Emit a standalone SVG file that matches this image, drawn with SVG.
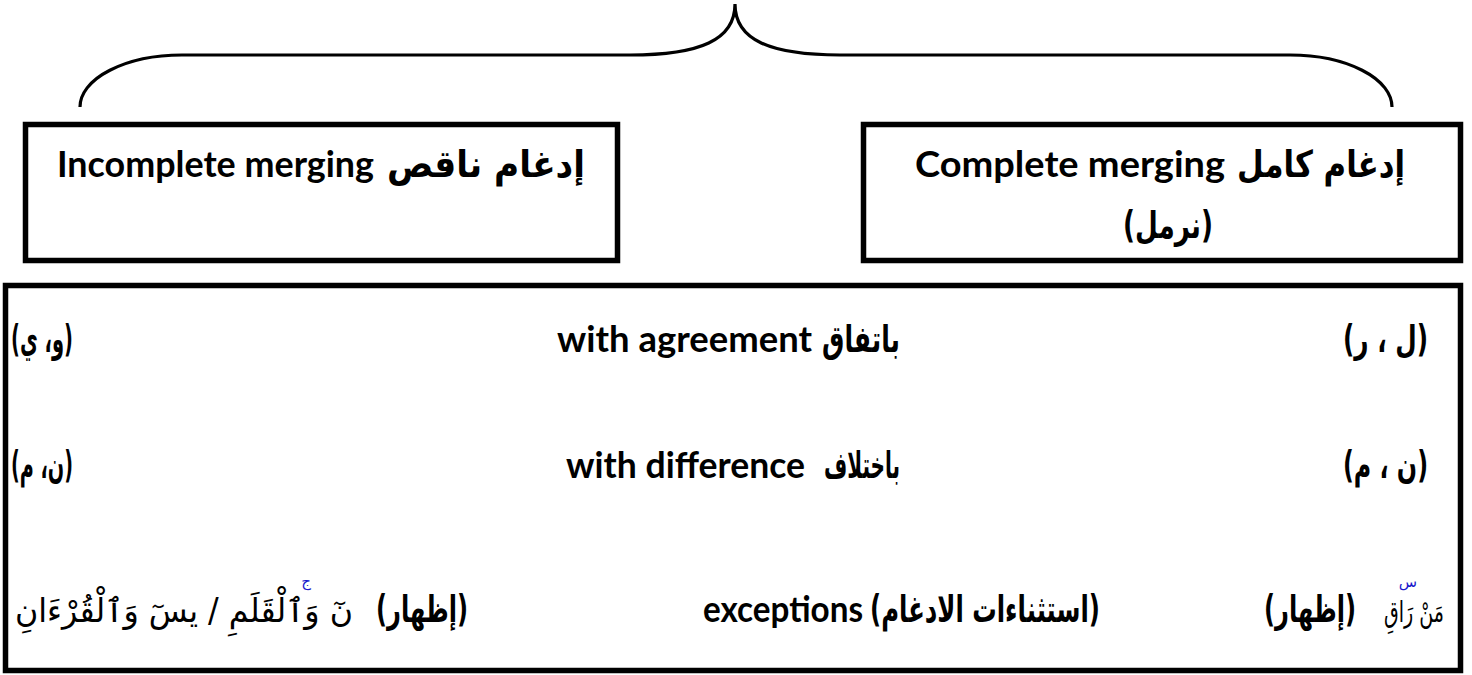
<svg xmlns="http://www.w3.org/2000/svg" width="1472" height="675" viewBox="0 0 1472 675">
<style>
.box{fill:#fff;stroke:#000;stroke-width:5.5}
.en{font-family:Lato,"Liberation Sans","DejaVu Sans",sans-serif;font-weight:bold;font-size:36px;fill:#000}
.ar{font-family:"DejaVu Sans",sans-serif;font-weight:bold;font-size:37px;fill:#000}
.qr{font-family:"DejaVu Sans",sans-serif;font-size:33px;fill:#000}
.mark{font-family:"DejaVu Sans",sans-serif;font-size:15px;fill:#1a1acc}
.brace{fill:none;stroke:#000;stroke-width:3.2}
</style>
<rect width="1472" height="675" fill="#fff"/>
<g id="connectors">
<path class="brace" d="M 80 107 A 102 52 0 0 1 182 55 L 630 55 C 700 55 735 40 735 4 C 735 40 770 55 840 55 L 1290 55 A 102 52 0 0 1 1392 107"/>
</g>
<g id="node-incomplete">
<rect class="box" x="25.5" y="124.5" width="592" height="136"/>
<text class="en" x="57" y="177" textLength="317" lengthAdjust="spacingAndGlyphs">Incomplete merging</text>
<text class="ar" x="387" y="177" textLength="198" lengthAdjust="spacingAndGlyphs">إدغام ناقص</text>
</g>
<g id="node-complete">
<rect class="box" x="863.5" y="124.5" width="597" height="136"/>
<text class="en" x="915" y="177" textLength="310" lengthAdjust="spacingAndGlyphs">Complete merging</text>
<text class="ar" x="1237" y="177" textLength="168" lengthAdjust="spacingAndGlyphs">إدغام كامل</text>
<text class="ar" x="1123" y="238" textLength="90" lengthAdjust="spacingAndGlyphs">(نرمل)</text>
</g>
<g id="node-rules">
<rect class="box" x="5.5" y="285.5" width="1455" height="385"/>
<text class="ar" x="11" y="352" textLength="62" lengthAdjust="spacingAndGlyphs">(و، ي)</text>
<text class="en" x="557" y="352" textLength="255" lengthAdjust="spacingAndGlyphs">with agreement</text>
<text class="ar" x="822" y="352" textLength="78" lengthAdjust="spacingAndGlyphs">باتفاق</text>
<text class="ar" x="1343" y="352" textLength="85" lengthAdjust="spacingAndGlyphs">(ل ، ر)</text>
<text class="ar" x="11" y="478" textLength="62" lengthAdjust="spacingAndGlyphs">(ن، م)</text>
<text class="en" x="566" y="478" textLength="239" lengthAdjust="spacingAndGlyphs">with difference</text>
<text class="ar" x="824" y="478" textLength="76" lengthAdjust="spacingAndGlyphs">باختلاف</text>
<text class="ar" x="1343" y="478" textLength="85" lengthAdjust="spacingAndGlyphs">(ن ، م)</text>
<text class="qr" x="15" y="622" textLength="338" lengthAdjust="spacingAndGlyphs">نٓ وَٱلْقَلَمِ / يسٓ وَٱلْقُرْءَانِ</text>
<text class="mark" x="306" y="586" text-anchor="middle">ج</text>
<text class="ar" x="376" y="622" textLength="92" lengthAdjust="spacingAndGlyphs">(إظهار)</text>
<text class="en" x="703" y="622" textLength="160" lengthAdjust="spacingAndGlyphs">exceptions</text>
<text class="ar" x="870" y="622" textLength="230" lengthAdjust="spacingAndGlyphs">(استثناءات الادغام)</text>
<text class="ar" x="1264" y="622" textLength="92" lengthAdjust="spacingAndGlyphs">(إظهار)</text>
<text class="qr" x="1444" y="622" text-anchor="end" textLength="60" lengthAdjust="spacingAndGlyphs" style="font-size:29px">مَنْ رَاقِ</text>
<text class="mark" x="1408" y="587" text-anchor="middle">س</text>
</g>
</svg>
